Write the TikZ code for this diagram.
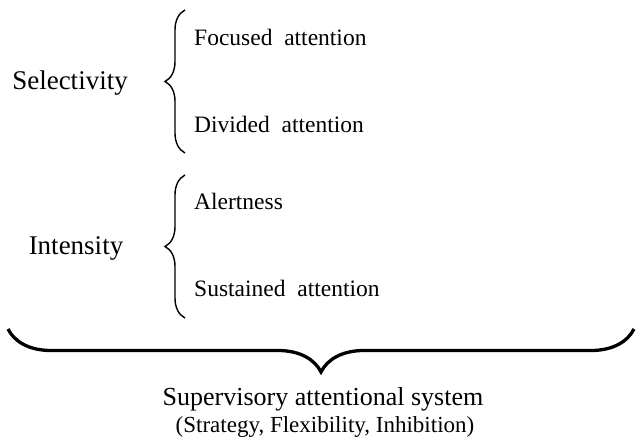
\documentclass[tikz,border=0pt]{standalone}
\usepackage{fontspec}
\setmainfont{Liberation Serif}
\usetikzlibrary{decorations.pathreplacing}
\begin{document}
\begin{tikzpicture}[x=1pt,y=-1pt,
  lbl/.style={inner sep=0pt,anchor=base,font=\fontsize{27}{31}\selectfont},
  item/.style={inner sep=0pt,anchor=base west,font=\fontsize{23.5}{28}\selectfont},
  big/.style={inner sep=0pt,anchor=base,font=\fontsize{26}{30}\selectfont},
  sub/.style={inner sep=0pt,anchor=base,font=\fontsize{23}{27}\selectfont},
  smallbrace/.style={decorate,decoration={brace,amplitude=20pt},line width=1.4pt},
  bigbrace/.style={decorate,decoration={brace,amplitude=43pt},line width=3.3pt}]
\useasboundingbox (0,0) rectangle (637,446);
\fill[white] (0,0) rectangle (637,446);
% left labels
\node[lbl] (sel) at (70,90) {Selectivity};
\node[lbl] (int) at (76,255) {Intensity};
% items
\node[item] (foc) at (194,46) {Focused\ \ attention};
\node[item] (div) at (194,133) {Divided\ \ attention};
\node[item] (ale) at (194,210) {Alertness};
\node[item] (sus) at (194,297) {Sustained\ \ attention};
% bottom
\node[big] (sas) at (323,405) {Supervisory attentional system};
\node[sub] (sfi) at (325,432) {(Strategy, Flexibility, Inhibition)};
% braces
\coordinate (b1top) at (185,10);
\coordinate (b1bot) at (185,153);
\coordinate (b2top) at (185,175);
\coordinate (b2bot) at (185,318);
\coordinate (bbl) at (8,329);
\coordinate (bbr) at (634,329);
\draw[smallbrace] (b1bot) -- (b1top);
\draw[smallbrace] (b2bot) -- (b2top);
\draw[bigbrace] (bbr) -- (bbl);
\end{tikzpicture}
\end{document}
